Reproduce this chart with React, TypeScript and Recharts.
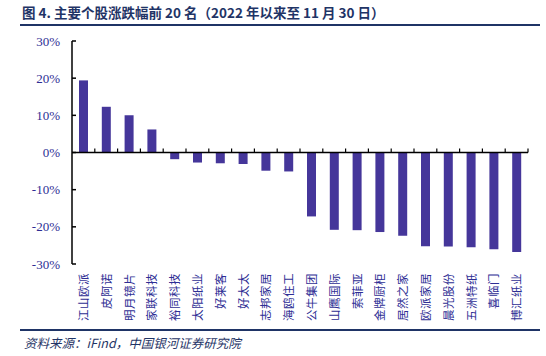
import React from 'react';
import { BarChart, Bar, XAxis, YAxis, ReferenceLine } from 'recharts';

const categories = [
  '江山欧派', '皮阿诺', '明月镜片', '家联科技', '裕同科技',
  '太阳纸业', '好莱客', '好太太', '志邦家居', '海鸥住工',
  '公牛集团', '山鹰国际', '索菲亚', '金牌厨柜', '居然之家',
  '欧派家居', '晨光股份', '五洲特纸', '喜临门', '博汇纸业',
];
const changes = [
  19.4, 12.3, 10.0, 6.2, -1.8,
  -2.7, -2.9, -3.1, -4.9, -5.1,
  -17.2, -20.8, -20.9, -21.4, -22.4,
  -25.2, -25.3, -25.5, -26.0, -26.8,
];
const yTicks = [-30, -20, -10, 0, 10, 20, 30];
const titleText = '图 4. 主要个股涨跌幅前 20 名（2022 年以来至 11 月 30 日）';
const sourceText = '资料来源：iFind，中国银河证券研究院';

const data = categories.map((name, i) => ({ name, value: changes[i] }));

const BAR_COLOR = '#45369A';
const LABEL_COLOR = '#2E2E94';
const NAVY = '#1F3466';

const YTick = (props: any) => {
  const { x, y, payload } = props;
  return (
    <g>
      <line x1={x} x2={x + 4} y1={y} y2={y} stroke="#000" strokeWidth={1.5} />
      <text
        x={x - 12}
        y={y}
        dy="0.35em"
        textAnchor="end"
        fontFamily="'Liberation Serif', 'Times New Roman', serif"
        fontSize={13}
        fill={LABEL_COLOR}
      >
        {`${payload.value}%`}
      </text>
    </g>
  );
};

const XTick = (props: any) => {
  const { x, y, payload } = props;
  return (
    <text
      transform={`translate(${x}, ${y + 9}) rotate(-90)`}
      dy="0.4em"
      textAnchor="end"
      fontFamily="'Noto Sans CJK SC', sans-serif"
      fontSize={11.5}
      fill={LABEL_COLOR}
      letterSpacing={0.5}
    >
      {payload.value}
    </text>
  );
};

const ZeroLine = (props: any) => {
  const { x1, x2, y1 } = props;
  const n = categories.length;
  const step = (x2 - x1) / n;
  const marks = [];
  for (let i = 1; i <= n; i++) {
    const xx = x1 + step * i;
    marks.push(<line key={i} x1={xx} x2={xx} y1={y1} y2={y1 - 4} stroke="#000" strokeWidth={1.2} />);
  }
  return (
    <g>
      <line x1={x1} x2={x2} y1={y1} y2={y1} stroke="#000" strokeWidth={1.5} />
      {marks}
    </g>
  );
};

export default function App() {
  return (
    <div style={{ position: 'absolute', left: 0, top: 0, width: 546, height: 356, background: '#fff' }}>
      <div
        style={{
          position: 'absolute',
          left: 22,
          top: 3,
          fontFamily: "'Noto Sans CJK SC', sans-serif",
          fontWeight: 'bold',
          fontSize: 13.5,
          color: NAVY,
          whiteSpace: 'nowrap',
          lineHeight: '18px',
        }}
      >
        {titleText}
      </div>
      <div style={{ position: 'absolute', left: 20, top: 24, width: 520, height: 2, background: NAVY }} />
      <div style={{ position: 'absolute', left: 20, top: 329, width: 520, height: 2, background: NAVY }} />
      <div
        style={{
          position: 'absolute',
          left: 24,
          top: 334,
          fontFamily: "'Noto Sans CJK SC', sans-serif",
          fontStyle: 'italic',
          fontSize: 12.5,
          color: NAVY,
          whiteSpace: 'nowrap',
          lineHeight: '18px',
        }}
      >
        {sourceText}
      </div>
      <div style={{ position: 'absolute', left: 0, top: 0 }}>
        <BarChart
          width={546}
          height={356}
          data={data}
          margin={{ top: 41, right: 18, bottom: 32, left: 32 }}
          barCategoryGap={0}
        >
          <XAxis
            dataKey="name"
            axisLine={false}
            tickLine={false}
            tickSize={0}
            tickMargin={0}
            height={60}
            interval={0}
            tick={<XTick />}
          />
          <YAxis
            type="number"
            domain={[-30, 30]}
            ticks={yTicks}
            width={40}
            axisLine={{ stroke: '#000', strokeWidth: 1.5 }}
            tickLine={false}
            tickSize={0}
            tickMargin={0}
            tick={<YTick />}
            interval={0}
          />
          <ReferenceLine y={0} shape={<ZeroLine />} />
          <Bar dataKey="value" fill={BAR_COLOR} barSize={9} isAnimationActive={false} />
        </BarChart>
      </div>
    </div>
  );
}
